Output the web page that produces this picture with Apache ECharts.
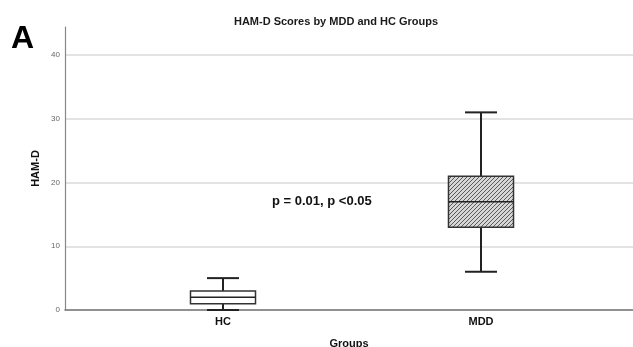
<!DOCTYPE html>
<html><head><meta charset="utf-8">
<script src="https://cdn.jsdelivr.net/npm/echarts@6/dist/echarts.min.js"></script>
<style>html,body{margin:0;padding:0;background:#fff}#c{width:633px;height:347px}</style>
</head><body><div id="c"></div>
<script>
const categories = ['HC', 'MDD'];
// [min, Q1, median, Q3, max]
const hcValues = [0, 1, 2, 3, 5];
const mddValues = [6, 13, 17, 21, 31];
const yTicks = [0, 10, 20, 30, 40];
const chartTitle = 'HAM-D Scores by MDD and HC Groups';
const annotation = 'p = 0.01, p <0.05';

// hatch pattern tile
const tile = document.createElement('canvas');
tile.width = 4; tile.height = 4;
const g = tile.getContext('2d');
g.fillStyle = '#d6d6d6'; g.fillRect(0, 0, 4, 4);
g.strokeStyle = '#5a5a5a'; g.lineWidth = 1;
g.beginPath();
g.moveTo(-1, 5); g.lineTo(5, -1);
g.moveTo(-1, 1); g.lineTo(1, -1);
g.moveTo(3, 5); g.lineTo(5, 3);
g.stroke();
const fills = ['#ffffff', { image: tile, repeat: 'repeat' }];

const boxData = [[0].concat(hcValues), [1].concat(mddValues)];
const font = 'Liberation Sans, Arial, sans-serif';

const chart = echarts.init(document.getElementById('c'));
chart.setOption({
  animation: false,
  title: [
    { text: chartTitle, left: 331, top: 11, textAlign: 'center',
      textStyle: { fontSize: 11, fontWeight: 'bold', color: '#1a1a1a', fontFamily: font } },
    { text: 'A', left: 6, top: 18,
      textStyle: { fontSize: 32, fontWeight: 'bold', color: '#000', fontFamily: font } }
  ],
  graphic: [{
    type: 'text', left: 272, top: 195,
    style: { text: annotation, fill: '#111', font: 'bold 13px Liberation Sans, Arial, sans-serif' }
  }],
  grid: [
    { left: 65, right: 0, top: 27, bottom: 37, outerBoundsMode: 'none' },
    { left: 65, right: 0, top: 55, bottom: 37, outerBoundsMode: 'none' },
    { left: 94, right: 23, top: 55, bottom: 37, outerBoundsMode: 'none' }
  ],
  xAxis: [
    { gridIndex: 0, type: 'value', show: false, min: 0, max: 1 },
    { gridIndex: 1, type: 'value', min: 0, max: 1,
      axisLine: { show: true, lineStyle: { color: '#777', width: 1.5 } },
      axisTick: { show: false }, axisLabel: { show: false }, splitLine: { show: false },
      name: 'Groups', nameLocation: 'middle', nameGap: 28,
      nameTextStyle: { fontSize: 11, fontWeight: 'bold', color: '#111', fontFamily: font } },
    { gridIndex: 2, type: 'category', data: categories,
      axisLine: { show: false }, axisTick: { show: false },
      axisLabel: { fontSize: 11, fontWeight: 'bold', color: '#111', margin: 6, fontFamily: font } }
  ],
  yAxis: [
    { gridIndex: 0, type: 'value', min: 0, max: 1,
      axisLine: { show: true, lineStyle: { color: '#888', width: 1.2 } },
      axisTick: { show: false }, axisLabel: { show: false }, splitLine: { show: false },
      name: 'HAM-D', nameLocation: 'middle', nameGap: 24,
      nameTextStyle: { fontSize: 11, fontWeight: 'bold', color: '#111', fontFamily: font } },
    { gridIndex: 1, type: 'value', min: yTicks[0], max: yTicks[yTicks.length - 1], interval: 10,
      axisLine: { show: false }, axisTick: { show: false },
      axisLabel: { fontSize: 8, color: '#666', margin: 5, fontFamily: font },
      splitLine: { lineStyle: { color: '#dadada', width: 1.5 } } },
    { gridIndex: 2, type: 'value', show: false, min: yTicks[0], max: yTicks[yTicks.length - 1] }
  ],
  series: [{
    type: 'custom',
    xAxisIndex: 2, yAxisIndex: 2,
    encode: { x: 0, y: [1, 2, 3, 4, 5] },
    data: boxData,
    renderItem: function (params, api) {
      const idx = api.value(0);
      const v = [1, 2, 3, 4, 5].map(i => api.value(i));
      const p = v.map(val => api.coord([idx, val]));
      const band = api.size([1, 0])[0];
      const bw = band * 0.252, cw = band * 0.124;
      const x = p[0][0];
      const lineStyle = { stroke: '#222', lineWidth: 2 };
      return {
        type: 'group',
        children: [
          { type: 'line', shape: { x1: x, y1: p[4][1], x2: x, y2: p[3][1] }, style: lineStyle },
          { type: 'line', shape: { x1: x, y1: p[1][1], x2: x, y2: p[0][1] }, style: lineStyle },
          { type: 'line', shape: { x1: x - cw / 2, y1: p[4][1], x2: x + cw / 2, y2: p[4][1] }, style: lineStyle },
          { type: 'line', shape: { x1: x - cw / 2, y1: p[0][1], x2: x + cw / 2, y2: p[0][1] }, style: lineStyle },
          { type: 'rect', shape: { x: x - bw / 2, y: p[3][1], width: bw, height: p[1][1] - p[3][1] },
            style: { fill: fills[params.dataIndex], stroke: '#333', lineWidth: 1.5 } },
          { type: 'line', shape: { x1: x - bw / 2, y1: p[2][1], x2: x + bw / 2, y2: p[2][1] },
            style: { stroke: '#222', lineWidth: 1.5 } }
        ]
      };
    }
  }]
});
</script>
</body></html>
